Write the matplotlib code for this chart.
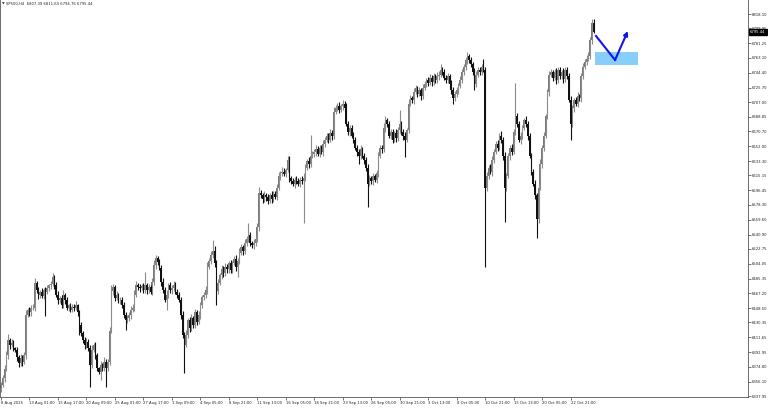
import numpy as np
import matplotlib
matplotlib.use('Agg')
from matplotlib import pyplot
from matplotlib.patches import Rectangle

# SP500 H4 closes, one per bar
closes = [
    6352, 6360, 6372, 6389, 6408, 6402, 6405, 6398, 6396, 6387,
    6379, 6386, 6381, 6389, 6440, 6446, 6443, 6449, 6449, 6480,
    6471, 6465, 6469, 6464, 6471, 6469, 6474, 6477, 6479, 6487,
    6477, 6465, 6459, 6461, 6452, 6465, 6459, 6449, 6452, 6446,
    6450, 6449, 6452, 6443, 6427, 6417, 6408, 6402, 6406, 6398,
    6377, 6396, 6402, 6389, 6373, 6368, 6377, 6373, 6381, 6373,
    6381, 6420, 6470, 6475, 6461, 6465, 6459, 6459, 6452, 6440,
    6433, 6436, 6440, 6446, 6449, 6465, 6477, 6475, 6474, 6476,
    6471, 6477, 6471, 6475, 6469, 6481, 6503, 6511, 6506, 6499,
    6481, 6471, 6459, 6465, 6477, 6471, 6474, 6477, 6469, 6465,
    6459, 6440, 6415, 6402, 6415, 6433, 6423, 6436, 6427, 6443,
    6431, 6440, 6452, 6462, 6465, 6471, 6500, 6508, 6515, 6520,
    6505, 6470, 6480, 6490, 6498, 6492, 6500, 6497, 6505, 6496,
    6505, 6510, 6500, 6508, 6518, 6525, 6520, 6530, 6535, 6540,
    6530, 6528, 6530, 6535, 6550, 6593, 6590, 6585, 6590, 6588,
    6583, 6590, 6586, 6592, 6588, 6600, 6615, 6618, 6620, 6617,
    6622, 6635, 6612, 6608, 6605, 6610, 6608, 6605, 6610, 6608,
    6612, 6625, 6633, 6630, 6640, 6642, 6645, 6648, 6642, 6650,
    6645, 6655, 6660, 6665, 6660, 6668, 6665, 6695, 6700, 6703,
    6698, 6702, 6705, 6700, 6680, 6670, 6675, 6665, 6660, 6650,
    6645, 6640, 6648, 6640, 6635, 6625, 6605, 6612, 6608, 6614,
    6610, 6618, 6640, 6650, 6648, 6675, 6685, 6680, 6665, 6670,
    6660, 6668, 6662, 6672, 6680, 6670, 6665, 6660, 6672, 6705,
    6712, 6710, 6720, 6725, 6718, 6722, 6715, 6725, 6730, 6735,
    6732, 6738, 6733, 6740, 6735, 6740, 6742, 6748, 6745, 6738,
    6735, 6740, 6730, 6722, 6712, 6718, 6722, 6728, 6735, 6745,
    6752, 6760, 6765, 6760, 6755, 6745, 6730, 6742, 6748, 6745,
    6752, 6748, 6600, 6615, 6625, 6620, 6635, 6645, 6655, 6650,
    6665, 6660, 6640, 6600, 6615, 6640, 6650, 6645, 6670, 6690,
    6680, 6660, 6665, 6675, 6685, 6680, 6665, 6640, 6620, 6605,
    6590, 6560, 6600, 6630, 6650, 6665, 6690, 6720, 6742, 6745,
    6738, 6745, 6735, 6748, 6740, 6745, 6736, 6748, 6740, 6710,
    6680, 6700, 6710, 6705, 6715, 6712, 6740, 6752, 6758, 6762,
    6765, 6785, 6807.39, 6795.44,
]
first_open = 6348

# wick lengths above / below the body, in points
upper_wick = [
    3, 4, 5, 6, 8, 3, 4, 3, 2, 4,   3, 5, 3, 4, 6, 3, 4, 3, 5, 6,
    3, 4, 2, 5, 3, 4, 3, 2, 4, 5,   3, 4, 5, 3, 4, 6, 3, 4, 2, 3,
    4, 3, 5, 2, 3, 4, 3, 4, 5, 3,   4, 6, 3, 4, 3, 2, 5, 3, 6, 4,
    3, 5, 8, 4, 3, 5, 3, 4, 3, 4,   3, 4, 3, 5, 4, 6, 5, 3, 4, 3,
    4, 17, 3, 4, 3, 5, 6, 4, 3, 4,  3, 5, 4, 6, 3, 4, 3, 5, 4, 3,
    4, 3, 5, 4, 6, 3, 4, 5, 3, 4,   3, 5, 4, 3, 4, 5, 6, 4, 5, 14,
    6, 4, 5, 3, 4, 3, 5, 4, 3, 4,   3, 4, 5, 3, 6, 4, 3, 5, 4, 15,
    4, 3, 5, 4, 6, 8, 4, 3, 5, 3,   4, 3, 5, 4, 3, 5, 4, 3, 6, 4,
    3, 4, 5, 3, 4, 3, 5, 4, 3, 4,   6, 4, 3, 5, 26, 4, 3, 5, 4, 3,
    4, 5, 3, 4, 3, 5, 4, 6, 4, 3,   4, 3, 5, 4, 6, 3, 4, 3, 5, 4,
    3, 4, 5, 3, 4, 3, 5, 4, 3, 4,   3, 4, 5, 3, 4, 6, 5, 3, 4, 3,
    4, 3, 5, 4, 17, 3, 4, 5, 3, 6,  4, 3, 5, 4, 3, 4, 3, 5, 4, 3,
    4, 5, 3, 4, 3, 5, 4, 7, 3, 4,   3, 4, 3, 5, 4, 3, 4, 3, 5, 4,
    3, 4, 5, 3, 4, 3, 5, 4, 3, 4,   3, 10, 4, 5, 3, 4, 5, 3, 4, 5,
    3, 6, 4, 5, 3, 4, 3, 5, 4, 41,  4, 3, 5, 4, 3, 5, 4, 3, 4, 3,
    4, 3, 5, 6, 4, 5, 3, 4, 5, 4,   3, 4, 5, 3, 4, 3, 5, 4, 3, 4,
    5, 4, 3, 4, 5, 3, 4, 5, 3, 4,   5, 4, 5, 4.25,
]
lower_wick = [
    5, 3, 4, 3, 4, 5, 3, 4, 3, 5,   4, 3, 5, 3, 4, 3, 5, 4, 3, 4,
    3, 5, 4, 3, 4, 30, 3, 4, 5, 3,  4, 3, 5, 4, 3, 4, 5, 3, 4, 3,
    3, 4, 3, 5, 12, 4, 3, 5, 4, 3,  28, 4, 3, 5, 4, 3, 10, 4, 3, 24,
    3, 4, 3, 5, 4, 3, 4, 5, 3, 4,   12, 3, 4, 5, 3, 4, 3, 4, 5, 3,
    4, 3, 5, 4, 3, 4, 3, 5, 4, 3,   5, 4, 3, 13, 4, 3, 5, 4, 3, 4,
    3, 5, 4, 35, 3, 4, 5, 3, 4, 3,  4, 3, 5, 4, 3, 4, 5, 3, 4, 3,
    5, 18, 4, 3, 5, 4, 3, 4, 5, 3,  4, 3, 5, 13, 4, 3, 5, 4, 3, 4,
    3, 4, 5, 3, 4, 5, 3, 4, 3, 5,   4, 3, 5, 4, 3, 4, 3, 5, 4, 3,
    4, 3, 5, 4, 3, 5, 4, 3, 4, 3,   53, 4, 3, 5, 4, 3, 4, 5, 3, 4,
    3, 5, 4, 3, 4, 3, 5, 4, 3, 4,   4, 3, 5, 4, 3, 4, 5, 3, 4, 3,
    5, 10, 4, 3, 5, 4, 29, 3, 4, 5, 3, 4, 5, 3, 4, 3, 5, 4, 3, 4,
    4, 3, 5, 4, 3, 4, 5, 22, 3, 4,  3, 4, 5, 3, 4, 3, 5, 4, 3, 4,
    4, 3, 5, 4, 3, 4, 5, 3, 4, 3,   4, 3, 5, 4, 7, 3, 4, 5, 3, 4,
    3, 4, 5, 3, 4, 3, 8, 4, 3, 4,   4, 3, 100, 5, 4, 3, 5, 4, 3, 4,
    3, 4, 5, 43, 4, 3, 5, 4, 3, 4,  4, 3, 5, 4, 3, 4, 5, 3, 4, 3,
    5, 23, 4, 3, 5, 4, 3, 4, 5, 3,  4, 3, 5, 4, 3, 4, 5, 3, 4, 3,
    20, 4, 5, 3, 4, 3, 5, 4, 3, 4,  3, 4, 5, 0.68,
]

price_ticks = [6818.10, 6799.95, 6781.25, 6763.10, 6744.40, 6725.70, 6707.00,
               6688.85, 6670.70, 6652.00, 6633.30, 6615.15, 6596.45, 6578.30,
               6559.60, 6540.90, 6522.75, 6504.05, 6485.35, 6467.20, 6448.50,
               6430.35, 6411.65, 6392.95, 6374.80, 6356.10, 6337.95]
date_labels = ['8 Aug 2025', '13 Aug 01:00', '15 Aug 17:00', '20 Aug 09:00',
               '25 Aug 01:00', '27 Aug 17:00', '1 Sep 09:00', '4 Sep 05:00',
               '8 Sep 21:00', '11 Sep 13:00', '16 Sep 05:00', '18 Sep 21:00',
               '23 Sep 13:00', '26 Sep 05:00', '30 Sep 21:00', '3 Oct 13:00',
               '8 Oct 05:00', '10 Oct 21:00', '15 Oct 13:00', '20 Oct 05:00',
               '22 Oct 21:00']
bars_per_label = 16
last_price = 6795.44
title = 'SP500,H4  6807.39 6811.64 6794.76 6795.44'

# hand-drawn setup: zone and expected path (bar index, price)
zone = (334, 358, 6754.0, 6770.3)
path_x = [334.3, 345.0, 352.2]
path_y = [6790.5, 6760.3, 6796.7]


c = np.array(closes, dtype=float)
o = np.concatenate([[first_open], c[:-1]])
hi = np.maximum(o, c) + np.array(upper_wick)
lo = np.minimum(o, c) - np.array(lower_wick)
idx = np.arange(len(c))
up = c >= o

pyplot.close('all')
fig = pyplot.figure(figsize=(7.68, 4.08), dpi=100)
ax = fig.add_axes([0.0, 1 - 397/408, 748/768, 397/408])

# candles
ax.vlines(idx[up], lo[up], hi[up], color='#8c8c8c', lw=0.8)
ax.vlines(idx[~up], lo[~up], hi[~up], color='#111111', lw=0.8)
ax.bar(idx[up], (c - o)[up], bottom=o[up], width=0.9, color='#7a7a7a', lw=0)
ax.bar(idx[~up], (c - o)[~up], bottom=o[~up], width=0.9, color='#111111', lw=0)

# annotation
ax.add_patch(Rectangle((zone[0], zone[2]), zone[1] - zone[0], zone[3] - zone[2],
                       color='#87cefa', lw=0, zorder=3))
ax.plot(path_x[:2], path_y[:2], color='#1414e6', lw=1.5, zorder=4)
ax.annotate('', xy=(path_x[2], path_y[2]), xytext=(path_x[1], path_y[1]),
            arrowprops=dict(arrowstyle='-|>', color='#1414e6', lw=1.5,
                            mutation_scale=6, shrinkA=0, shrinkB=0), zorder=4)

ax.set_xlim(-0.56, 419.7)
ax.set_ylim(6336.7, 6835.7)

ax.yaxis.tick_right()
ax.set_yticks(price_ticks)
ax.set_yticklabels(['%.2f' % p for p in price_ticks])
ax.set_xticks(np.arange(len(date_labels)) * bars_per_label)
ax.set_xticklabels(date_labels)
for lab in ax.get_xticklabels():
    lab.set_ha('left')
ax.tick_params(axis='both', direction='out', length=2, width=0.5, color='#444444',
               labelsize=2.7, pad=0.8, labelcolor='#222222')
ax.spines['top'].set_visible(False)
for s in ['left', 'right', 'bottom']:
    ax.spines[s].set_linewidth(0.6)
    ax.spines[s].set_color('#555555')

# current price box
ax.text(1.003, last_price, '%.2f' % last_price, transform=ax.get_yaxis_transform(),
        fontsize=2.7, color='white', va='center', ha='left',
        bbox=dict(boxstyle='square,pad=0.25', fc='black', ec='black'), clip_on=False)

fig.text(0.003, 1 - 4/408, '\u25bc', fontsize=2.5, va='center', ha='left', color='#333333')
fig.text(0.008, 1 - 4/408, title, fontsize=2.7, va='center', ha='left', color='#222222')

pyplot.savefig('out.png', dpi=100)
